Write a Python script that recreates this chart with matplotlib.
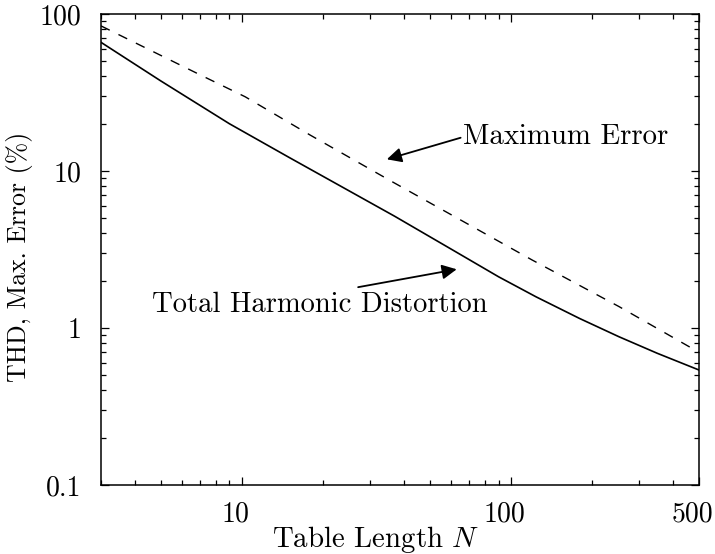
import matplotlib
matplotlib.use("Agg")
import matplotlib.pyplot as plt
import matplotlib.transforms as mtransforms
from matplotlib.ticker import FixedLocator, FixedFormatter, LogLocator, NullFormatter

# Data
n_thd = [3, 5, 9, 15, 37, 60, 90, 124, 180, 252, 350, 500]
thd = [66, 37.5, 20.0, 12.2, 5.15, 3.18, 2.12, 1.58, 1.15, 0.88, 0.69, 0.54]

n_max = [3, 6.9, 10.3, 18, 36.2, 120, 252, 500]
max_err = [84, 41.5, 29.7, 16.9, 8.55, 2.71, 1.37, 0.70]

x_ticks = [10, 100, 500]
x_ticklabels = ["10", "100", "500"]
y_ticks = [0.1, 1, 10, 100]
y_ticklabels = ["0.1", "1", "10", "100"]

plt.rcParams["font.family"] = ["cmr10", "DejaVu Serif"]
plt.rcParams["mathtext.fontset"] = "cm"
plt.rcParams["axes.unicode_minus"] = False
plt.rcParams["axes.formatter.use_mathtext"] = True

fig = plt.figure(figsize=(7.15, 5.54), dpi=100)
ax = fig.add_axes([101 / 715, 1 - 485 / 554, 598 / 715, 471 / 554])

ax.plot(n_thd, thd, color="black", lw=1.2, solid_joinstyle="round")
ax.plot(n_max, max_err, color="black", lw=1.0, dashes=(7, 7))

ax.set_xscale("log")
ax.set_yscale("log")
ax.set_xlim(3, 500)
ax.set_ylim(0.1, 100)

ax.xaxis.set_major_locator(FixedLocator(x_ticks))
ax.xaxis.set_major_formatter(FixedFormatter(x_ticklabels))
ax.xaxis.set_minor_locator(LogLocator(base=10, subs=range(2, 10), numticks=20))
ax.xaxis.set_minor_formatter(NullFormatter())
ax.yaxis.set_major_locator(FixedLocator(y_ticks))
ax.yaxis.set_major_formatter(FixedFormatter(y_ticklabels))
ax.yaxis.set_minor_locator(LogLocator(base=10, subs=range(2, 10), numticks=20))
ax.yaxis.set_minor_formatter(NullFormatter())

ax.tick_params(which="both", direction="in", top=True, right=True, width=0.9)
ax.tick_params(which="major", length=6, labelsize=20)
ax.tick_params(axis="x", which="major", pad=12)
ax.tick_params(axis="y", which="major", pad=14)
ax.tick_params(which="minor", length=3.5)
for s in ax.spines.values():
    s.set_linewidth(1.1)

# the scanned reference has x tick labels slightly left of their ticks
offset = mtransforms.ScaledTranslation(-6.5 / 100, 0, fig.dpi_scale_trans)
for lab in ax.get_xticklabels():
    lab.set_transform(lab.get_transform() + offset)

ax.set_xlabel("Table Length $N$", fontsize=20.8)
ax.xaxis.set_label_coords(0.459, -0.082)
ax.set_ylabel("THD, Max. Error (%)", fontsize=18.6)
ax.yaxis.set_label_coords(-0.114, 0.484)

arrow = dict(arrowstyle="-|>", color="black", lw=1.3, mutation_scale=22,
             shrinkA=0, shrinkB=0)
ax.annotate("Maximum Error", xy=(0.478, 0.6915), xycoords="axes fraction",
            xytext=(0.606, 0.739), textcoords="axes fraction",
            ha="left", va="center", fontsize=20.8,
            arrowprops=dict(arrow, relpos=(0, 0.5)))

ax.text(0.0853, 0.382, "Total Harmonic Distortion", transform=ax.transAxes,
        ha="left", va="center", fontsize=20.6)
ax.annotate("", xy=(0.5948, 0.458), xycoords="axes fraction",
            xytext=(0.430, 0.420), textcoords="axes fraction",
            arrowprops=arrow)

fig.savefig("out.png", dpi=100)
